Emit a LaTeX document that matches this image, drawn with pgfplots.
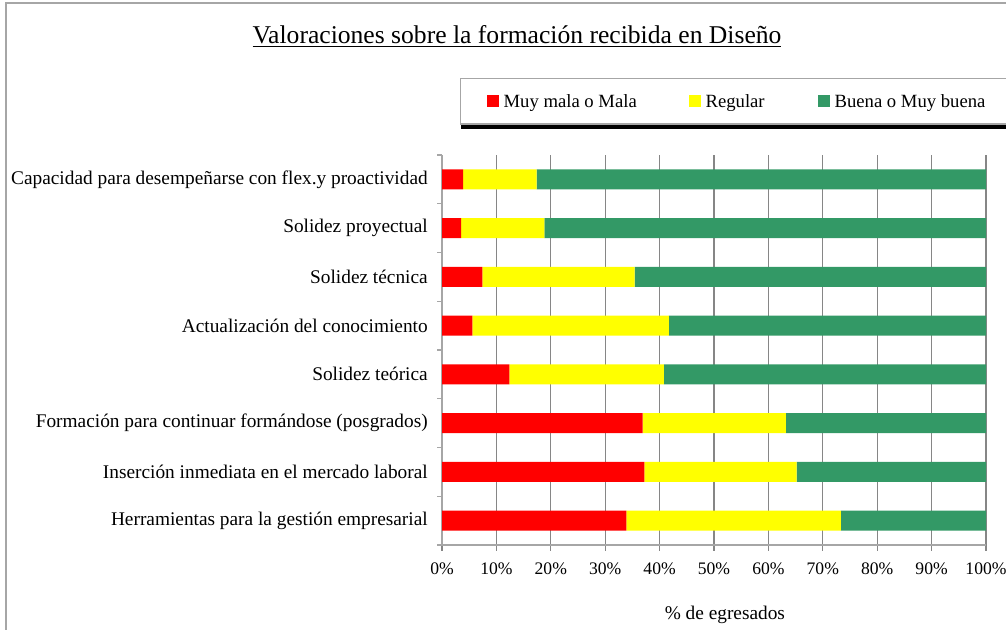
\documentclass[border=0pt]{standalone}
\usepackage{fontspec}
\setmainfont{Liberation Serif}
\usepackage{pgfplots}
\pgfplotsset{compat=1.18}
\definecolor{cRed}{HTML}{FF0000}
\definecolor{cYel}{HTML}{FFFF00}
\definecolor{cGrn}{HTML}{339966}
\definecolor{cGrid}{HTML}{868686}
\definecolor{cAxis}{HTML}{A6A6A6}
\begin{document}
\begin{tikzpicture}
\useasboundingbox (0pt,0pt) rectangle (754.5pt,-472.5pt);
\draw[cAxis, line width=1.2pt] (4.5pt,-480pt) -- (4.5pt,-2.25pt) -- (765pt,-2.25pt);
\node[font=\fontsize{19.2}{22}\selectfont, anchor=base, inner sep=0pt] at (387.75pt,-33pt) {\underline{Valoraciones sobre la formación recibida en Diseño}};
\begin{axis}[
  at={(331.5pt,-116.25pt)}, anchor=north west,
  scale only axis, width=408pt, height=292.5pt,
  xbar stacked, bar width=15pt,
  xmin=0, xmax=100, ymin=-0.5, ymax=7.5,
  axis lines*=left,
  axis line style={cAxis, line width=1pt},
  tick align=outside,
  major tick length=4.5pt,
  minor tick length=3.75pt,
  xtick={0,10,...,100},
  xticklabel={\pgfmathprintnumber{\tick}\%},
  /pgf/number format/assume math mode=true,
  xmajorgrids,
  major grid style={cGrid, line width=0.9pt},
  major x tick style={cGrid, line width=0.9pt},
  ytick={0,...,7},
  minor ytick={-0.5,0.5,...,7.5},
  major y tick style={draw=none},
  minor y tick style={cAxis, line width=0.9pt},
  yticklabels={Herramientas para la gestión empresarial,
    Inserción inmediata en el mercado laboral,
    Formación para continuar formándose (posgrados),
    Solidez teórica,
    Actualización del conocimiento,
    Solidez técnica,
    Solidez proyectual,
    Capacidad para desempeñarse con flex.y proactividad},
  yticklabel style={font=\fontsize{14.5}{16}\selectfont, anchor=east, inner sep=0pt, xshift=-6pt},
  xticklabel style={font=\fontsize{13.2}{15}\selectfont, anchor=north, inner sep=0pt, yshift=-9pt},
  xlabel={\% de egresados},
  xlabel style={font=\fontsize{14.5}{16}\selectfont, at={(axis description cs:0.52,-0.179)}, anchor=center},
  legend columns=3,
  legend image code/.code={\fill[#1] (0pt,-4.5pt) rectangle (9pt,4.5pt);},
  legend style={name=leg, at={(axis description cs:0.0331,1.1974)}, anchor=north west,
    draw=cAxis, line width=0.9pt, fill=white,
    inner xsep=19.5pt, inner ysep=10.5pt,
    font=\fontsize{14}{16}\selectfont,
    nodes={inner sep=0pt, text height=11.5pt, text depth=1.5pt},
    /tikz/every odd column/.append style={column sep=3.75pt},
    /tikz/every even column/.append style={column sep=0pt},
    cells={anchor=west}},
]
\addplot[fill=cRed, draw=none] coordinates {
  (33.9,0) (37.2,1) (36.9,2) (12.4,3) (5.6,4) (7.4,5) (3.5,6) (3.9,7)};
\addplot[fill=cYel, draw=none] coordinates {
  (39.4,0) (28.0,1) (26.3,2) (28.4,3) (36.1,4) (28.0,5) (15.3,6) (13.5,7)};
\addplot[fill=cGrn, draw=none] coordinates {
  (26.7,0) (34.8,1) (36.8,2) (59.2,3) (58.3,4) (64.6,5) (81.2,6) (82.6,7)};
\addlegendentry{\makebox[138.75pt][l]{Muy mala o Mala}}
\addlegendentry{\makebox[84pt][l]{Regular}}
\addlegendentry{\makebox[150pt][l]{Buena o Muy buena}}
\end{axis}
\fill[black] ([xshift=0.45pt]leg.south west) rectangle ([yshift=-3pt]leg.south east);
\end{tikzpicture}
\end{document}
